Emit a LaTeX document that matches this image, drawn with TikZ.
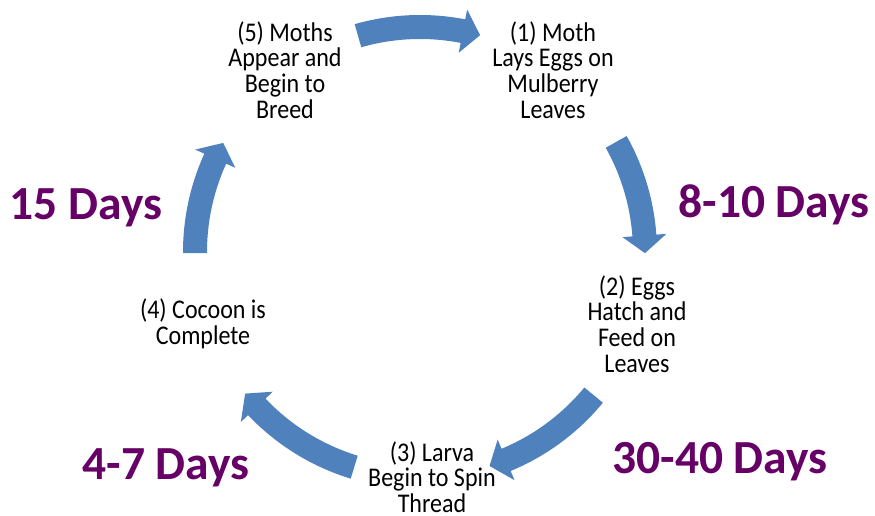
\documentclass[tikz,border=0pt]{standalone}
\usepackage{fontspec}
\setmainfont{Carlito}
\newfontfamily\stagefont[FakeStretch=0.89]{Carlito}
\usetikzlibrary{positioning}

\definecolor{arrowblue}{RGB}{79,129,189}
\definecolor{daypurple}{RGB}{102,0,102}

\begin{document}
\begin{tikzpicture}[x=1pt, y=1pt,
  stage/.style={align=center, inner sep=0pt, font=\stagefont\fontsize{27}{25.7}\selectfont},
  days/.style={anchor=base, inner sep=0pt, text=daypurple, font=\fontsize{47.5}{50}\selectfont\bfseries},
  cyclearrow/.style={fill=arrowblue}]

  \useasboundingbox (-420,-264) rectangle (455,252);

  \node (S1) [stage] at (133,182) {(1) Moth\\Lays Eggs on\\Mulberry\\Leaves};
  \node (S2) [stage] at (217,-72) {(2) Eggs\\Hatch and\\Feed on\\Leaves};
  \node (S3) [stage] at (12,-225) {(3) Larva\\Begin to Spin\\Thread};
  \node (S4) [stage] at (-217,-72) {(4) Cocoon is\\Complete};
  \node (S5) [stage] at (-135,182) {(5) Moths\\Appear and\\Begin to\\Breed};

  \node (D12) [days] at (354,34) {8-10 Days};
  \node (D23) [days] at (300,-221) {30-40 Days};
  \node (D34) [days] at (-254,-227) {4-7 Days};
  \node (D45) [days] at (-334,32) {15 Days};

  % block arrows round the cycle, start angle / tip angle
  \foreach \a/\b [evaluate=\b as \c using \b+4.5] in {106/74.5, 29.3/-0.3, -39.5/-72, -107/-141, 180.3/151}
    \fill [cyclearrow] (\a:237) arc [start angle=\a, end angle=\c, radius=237]
      -- (\c:247) -- (\b:225) -- (\c:203) -- (\c:213)
      arc [start angle=\c, end angle=\a, radius=213] -- cycle;

\end{tikzpicture}
\end{document}
